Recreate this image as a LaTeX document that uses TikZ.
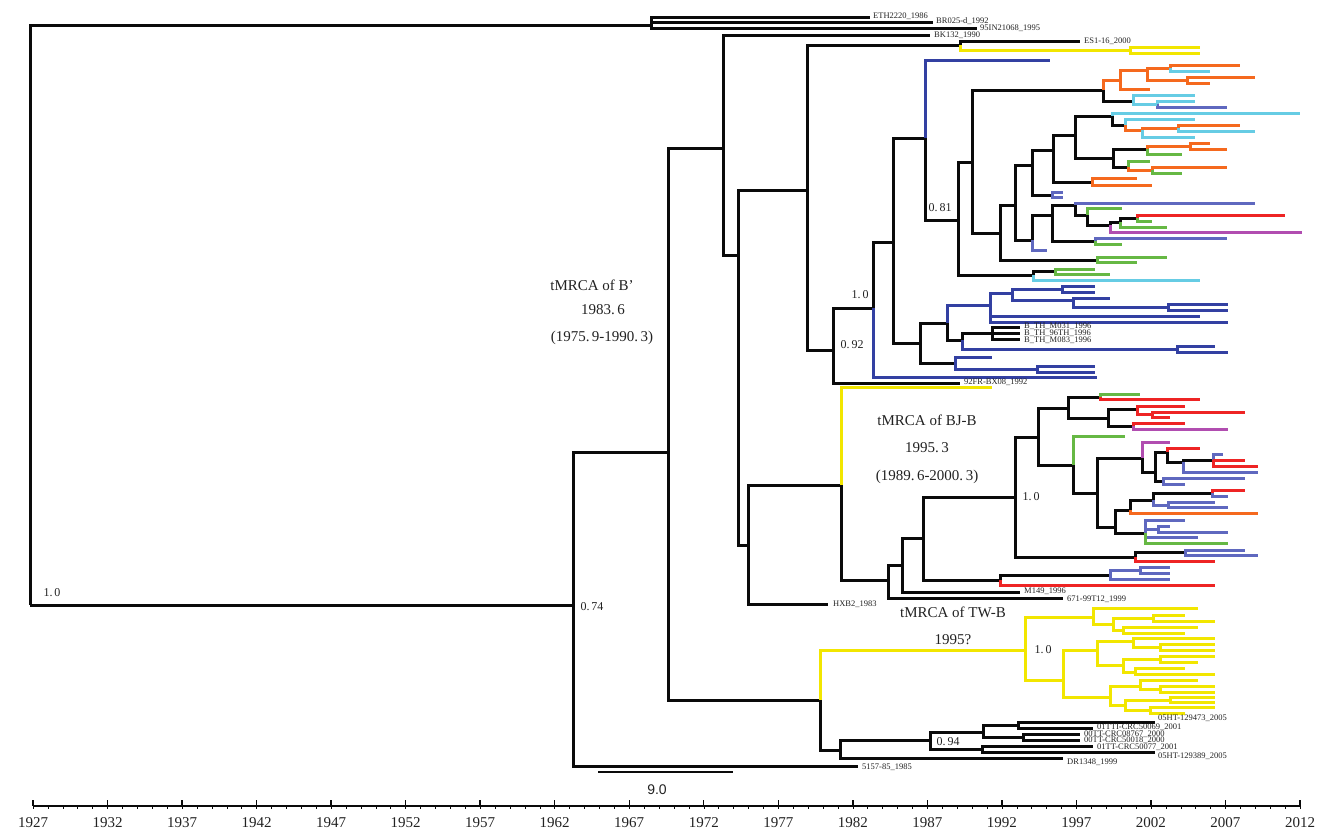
\documentclass[tikz,border=0pt]{standalone}
\usepackage{fontspec}
\setmainfont{Liberation Serif}
\newfontfamily\barfont{Liberation Sans}
\usetikzlibrary{positioning}
\definecolor{tblk}{HTML}{0A0A0A}
\definecolor{tyel}{HTML}{F2E600}
\definecolor{tdkblue}{HTML}{3340A2}
\definecolor{tblue}{HTML}{5F68BF}
\definecolor{torange}{HTML}{F5691E}
\definecolor{tcyan}{HTML}{66CCE4}
\definecolor{tgreen}{HTML}{66B844}
\definecolor{tred}{HTML}{EE2424}
\definecolor{tmag}{HTML}{B14DB0}
\definecolor{lblgray}{HTML}{222222}

\begin{document}
\begin{tikzpicture}[x=1pt, y=-1pt,
  br/.style={line width=3pt, draw=#1},
  leaf/.style={font=\fontsize{8.5}{9}\selectfont, text=lblgray, anchor=west, inner sep=0pt},
  bs/.style={font=\fontsize{12}{13}\selectfont, text=lblgray, inner sep=0pt},
  ann/.style={font=\fontsize{15}{16}\selectfont, text=lblgray, inner sep=0pt},
  yr/.style={font=\fontsize{15}{16}\selectfont, text=lblgray, inner sep=0pt},
  axis/.style={line width=1.8pt, tblk},
]

\useasboundingbox (0,0) rectangle (1323,833);

% =============================================
% Backbone and black branches
% =============================================
\foreach \px/\py/\cx/\cy in {
  30/605/651/25, 30/605/573/605,
  651/25/870/17, 651/25/933/22, 651/25/977/28,
  573/605/668/452, 573/605/858/766,
  668/452/723/148, 668/452/820/700,
  723/148/930/35, 723/148/738/255,
  738/255/807/190, 738/255/748/545,
  807/190/960/45, 807/190/833/350,
  960/45/1080/41,
  833/350/873/308, 833/350/960/383,
  873/308/893/242,
  893/242/925/138, 893/242/920/343,
  925/138/958/220,
  958/220/972/162, 958/220/1033/275,
  972/162/1103/90, 972/162/1000/233,
  1103/90/1133/101,
  1000/233/1015/205, 1000/233/1097/260,
  1015/205/1032/165, 1015/205/1032/240,
  1032/165/1053/150, 1032/165/1052/195,
  1053/150/1075/135, 1053/150/1092/182,
  1075/135/1112/116, 1075/135/1113/158,
  1112/116/1125/125,
  1113/158/1147/149, 1113/158/1128/167,
  1032/240/1052/215,
  1052/215/1075/205, 1052/215/1095/241,
  1075/205/1087/215, 1087/215/1110/225,
  1110/225/1120/222, 1120/222/1137/218,
  1033/275/1055/271,
  920/343/947/323, 920/343/955/363,
  947/323/962/340, 962/340/992/333,
  992/333/1020/327, 992/333/1020/333, 992/333/1020/339,
  748/545/841/485, 748/545/828/604,
  841/485/888/580,
  888/580/902/565, 888/580/1063/598,
  902/565/923/538, 902/565/1020/592,
  923/538/1015/497, 923/538/1000/580,
  1000/580/1110/575,
  1015/497/1038/437, 1015/497/1135/557,
  1135/557/1185/552,
  1038/437/1068/408, 1038/437/1073/465,
  1068/408/1100/397, 1068/408/1108/418,
  1108/418/1137/409, 1108/418/1133/426,
  1073/465/1097/493,
  1097/493/1142/458, 1097/493/1115/527,
  1142/458/1155/472,
  1155/472/1167/452, 1155/472/1163/481,
  1167/452/1183/462, 1183/462/1213/460,
  1115/527/1130/510, 1115/527/1145/533,
  1130/510/1153/500, 1153/500/1212/493,
  820/700/840/750,
  840/750/930/740, 840/750/1063/758,
  930/740/983/732, 930/740/982/749,
  983/732/1018/725, 983/732/1023/737,
  1018/725/1155/722, 1018/725/1093/728,
  1023/737/1080/734, 1023/737/1080/740,
  982/749/1093/746, 982/749/1155/752}
  \draw[br=tblk] (\px,\py) |- (\cx,\cy);

% =============================================
% Yellow branches (TW-B and others)
% =============================================
\foreach \px/\py/\cx/\cy in {
  960/45/1130/50, 1130/50/1200/47, 1130/50/1200/53,
  841/485/992/387,
  820/700/1025/650,
  1025/650/1093/617, 1025/650/1063/680,
  1093/617/1198/608, 1093/617/1113/624,
  1113/624/1153/618, 1153/618/1185/615, 1153/618/1215/621,
  1113/624/1123/630, 1123/630/1198/627, 1123/630/1185/633,
  1063/680/1097/650, 1063/680/1110/697,
  1097/650/1133/641, 1097/650/1123/665,
  1133/641/1215/638, 1133/641/1160/647,
  1160/647/1215/644, 1160/647/1215/650,
  1123/665/1160/659, 1123/665/1135/672,
  1160/659/1215/656, 1160/659/1198/662,
  1135/672/1185/668, 1135/672/1215/674,
  1110/697/1140/686, 1110/697/1125/705,
  1140/686/1198/680, 1140/686/1160/689,
  1160/689/1215/686, 1160/689/1215/692,
  1125/705/1170/700, 1125/705/1150/710,
  1170/700/1215/697, 1170/700/1215/702,
  1150/710/1215/707, 1150/710/1185/713}
  \draw[br=tyel] (\px,\py) |- (\cx,\cy);

% =============================================
% Dark blue branches
% =============================================
\foreach \px/\py/\cx/\cy in {
  925/138/1050/60,
  873/308/1097/377,
  947/323/990/305,
  990/305/1012/293, 990/305/1200/316, 990/305/1228/322,
  1012/293/1062/289, 1012/293/1073/300,
  1062/289/1095/286, 1062/289/1095/292,
  1073/300/1110/298, 1073/300/1168/307,
  1168/307/1228/304, 1168/307/1228/310,
  962/340/1177/349, 1177/349/1215/346, 1177/349/1228/352,
  955/363/992/357, 955/363/1037/369,
  1037/369/1095/366, 1037/369/1095/372}
  \draw[br=tdkblue] (\px,\py) |- (\cx,\cy);

% =============================================
% Blue branches
% =============================================
\foreach \px/\py/\cx/\cy in {
  1157/104/1227/107,
  1052/195/1063/192, 1052/195/1063/197,
  1075/205/1255/203,
  1032/240/1047/250,
  1095/241/1227/238,
  1110/575/1140/570, 1110/575/1170/579,
  1140/570/1170/567, 1140/570/1170/573,
  1185/552/1245/550, 1185/552/1258/555,
  1213/460/1223/454,
  1183/462/1258/472,
  1163/481/1245/478, 1163/481/1185/484,
  1212/493/1228/496,
  1153/500/1168/505, 1168/505/1215/502, 1168/505/1228/507,
  1145/533/1185/520, 1145/533/1158/529,
  1158/529/1170/526, 1158/529/1228/532,
  1145/533/1198/537}
  \draw[br=tblue] (\px,\py) |- (\cx,\cy);

% Orange
\foreach \px/\py/\cx/\cy in {
  1103/90/1120/80,
  1120/80/1147/70, 1120/80/1150/89,
  1147/70/1170/68, 1147/70/1187/80,
  1170/68/1240/65,
  1187/80/1255/77, 1187/80/1210/83,
  1125/125/1142/130, 1142/130/1178/128, 1178/128/1240/125,
  1147/149/1190/146, 1190/146/1210/143, 1190/146/1227/149,
  1128/167/1152/170, 1152/170/1227/167,
  1092/182/1137/178, 1092/182/1152/185,
  1130/510/1258/513}
  \draw[br=torange] (\px,\py) |- (\cx,\cy);

% Cyan
\foreach \px/\py/\cx/\cy in {
  1170/68/1210/71,
  1133/101/1195/95, 1133/101/1157/104, 1157/104/1195/101,
  1112/116/1300/113,
  1125/125/1195/119,
  1178/128/1255/131, 1142/130/1195/137,
  1033/275/1200/280}
  \draw[br=tcyan] (\px,\py) |- (\cx,\cy);

% Green
\foreach \px/\py/\cx/\cy in {
  1147/149/1182/154,
  1128/167/1150/161, 1152/170/1182/173,
  1097/260/1167/257, 1097/260/1137/262,
  1055/271/1095/269, 1055/271/1110/274,
  1087/215/1122/208, 1095/241/1122/244,
  1120/222/1167/227, 1137/218/1152/221,
  1100/397/1140/394,
  1073/465/1125/436,
  1145/533/1228/543}
  \draw[br=tgreen] (\px,\py) |- (\cx,\cy);

% Red
\foreach \px/\py/\cx/\cy in {
  1137/218/1285/215,
  1100/397/1200/399,
  1137/409/1185/406, 1137/409/1152/414,
  1152/414/1245/412, 1152/414/1170/417,
  1133/426/1185/423,
  1167/452/1200/448,
  1213/460/1245/460, 1213/460/1258/466,
  1212/493/1245/490,
  1135/557/1215/561,
  1000/580/1215/585}
  \draw[br=tred] (\px,\py) |- (\cx,\cy);

% Magenta
\foreach \px/\py/\cx/\cy in {
  1110/225/1302/232,
  1133/426/1228/429,
  1142/458/1170/442}
  \draw[br=tmag] (\px,\py) |- (\cx,\cy);

% =============================================
% Taxon labels
% =============================================
\node[leaf] (tx-eth) at (873,16) {ETH2220\_1986};
\node[leaf] (tx-br) at (936,21) {BR025-d\_1992};
\node[leaf] (tx-in) at (980,28) {95IN21068\_1995};
\node[leaf] (tx-bk) at (934,35) {BK132\_1990};
\node[leaf] (tx-es) at (1084,41) {ES1-16\_2000};
\node[leaf] (tx-th1) at (1024,326) {B\_TH\_M031\_1996};
\node[leaf] (tx-th2) at (1024,333) {B\_TH\_96TH\_1996};
\node[leaf] (tx-th3) at (1024,340) {B\_TH\_M083\_1996};
\node[leaf] (tx-fr) at (964,382) {92FR-BX08\_1992};
\node[leaf] (tx-m149) at (1024,591) {M149\_1996};
\node[leaf] (tx-671) at (1067,599) {671-99T12\_1999};
\node[leaf] (tx-hxb) at (833,604) {HXB2\_1983};
\node[leaf] (tx-ht1) at (1158,718) {05HT-129473\_2005};
\node[leaf] (tx-tt1) at (1097,727) {01TTI-CRC50069\_2001};
\node[leaf] (tx-tt2) at (1084,734) {00TT-CRC08767\_2000};
\node[leaf] (tx-tt3) at (1084,740) {00TT-CRC50018\_2000};
\node[leaf] (tx-tt4) at (1097,747) {01TT-CRC50077\_2001};
\node[leaf] (tx-ht2) at (1158,756) {05HT-129389\_2005};
\node[leaf] (tx-dr) at (1067,762) {DR1348\_1999};
\node[leaf] (tx-5157) at (862,767) {5157-85\_1985};

% =============================================
% Support values and tMRCA notes
% =============================================
\node[bs] (bs-root) at (52,593) {1.\,0};
\node[bs] (bs-074) at (592,607) {0.\,74};
\node[bs] (bs-081) at (940,208) {0.\,81};
\node[bs] (bs-n10) at (860,295) {1.\,0};
\node[bs] (bs-092) at (852,345) {0.\,92};
\node[bs] (bs-bj) at (1031,497) {1.\,0};
\node[bs] (bs-tw) at (1043,650) {1.\,0};
\node[bs] (bs-094) at (948,742) {0.\,94};

\node[ann] (bp-t) at (592,285) {tMRCA of B'};
\node[ann] (bp-d) at (603,310) {1983.\,6};
\node[ann] (bp-r) at (602,338) {(1975.\,9-1990.\,3)};

\node[ann] (bj-t) at (927,420) {tMRCA of BJ-B};
\node[ann] (bj-d) at (927,448) {1995.\,3};
\node[ann] (bj-r) at (927,477) {(1989.\,6-2000.\,3)};

\node[ann] (tw-t) at (953,612) {tMRCA of TW-B};
\node[ann] (tw-d) at (953,640) {1995?};

% =============================================
% Scale bar and time axis
% =============================================
\draw[line width=2.6pt, tblk] (598,772) -- (733,772);
\node[font=\barfont\fontsize{14}{15}\selectfont, text=lblgray] (sc) at (657,790) {9.0};

\draw[axis] (33,806) -- (1300,806);
\foreach \i in {0,...,85}
  \draw[line width=0.5pt, tblk] (33+14.906*\i,806) -- (33+14.906*\i,809);
\foreach \i in {0,...,17} {
  \pgfmathsetmacro\xx{33+74.53*\i}
  \pgfmathtruncatemacro\yy{1927+5*\i}
  \draw[line width=1.4pt, tblk] (\xx,806) -- (\xx,800);
  \node[yr] (yr-\i) at (\xx,823) {\yy};
}

\end{tikzpicture}
\end{document}
